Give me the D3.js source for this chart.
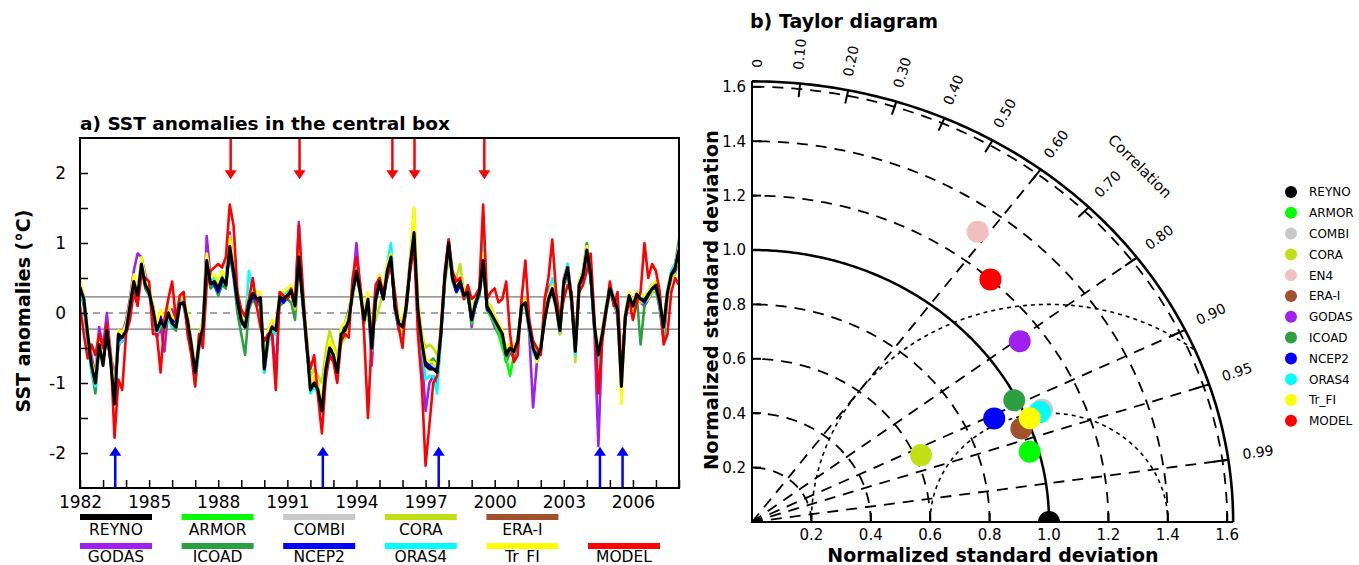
<!DOCTYPE html>
<html>
<head>
<meta charset="utf-8">
<title>SST anomalies and Taylor diagram</title>
<script src="https://cdn.jsdelivr.net/npm/d3@7"></script>
<style>
  body { margin: 0; background: #fff; }
  text { font-family: "DejaVu Sans", sans-serif; fill: #000; }
  .title { font-weight: bold; font-size: 18.5px; }
  .tick text { font-size: 17px; }
</style>
</head>
<body>
<svg id="chart" width="1359" height="565"></svg>
<script>
// ---- time series, one value every two months from 1982.0 ----
var step = 1 / 6;
var reyno = [
  0.37, 0.2, -0.3, -0.75, -1.0, -0.45,
  -0.75, -0.25, -0.7, -1.3, -0.3, -0.35,
  -0.25, 0.1, 0.45, 0.25, 0.7, 0.4,
  0.3, 0.05, -0.25, -0.12, -0.2, 0.0,
  -0.15, -0.2, 0.13, 0.15, -0.1, -0.45,
  -0.85, -0.45, -0.2, 0.75, 0.42, 0.45,
  0.35, 0.5, 0.4, 0.95, 0.6, 0.2,
  -0.1, -0.2, 0.15, 0.28, 0.2, 0.22,
  -0.8, -0.35, -0.2, -0.25, 0.23, 0.2,
  0.25, 0.32, 0.1, 0.8, 0.2, -0.4,
  -1.1, -1.0, -1.1, -1.4, -0.8, -0.5,
  -0.6, -0.85, -0.3, -0.25, -0.1, 0.3,
  0.6, 0.3, -0.1, 0.2, -0.5, 0.2,
  0.45, 0.2, 0.6, 0.8, 0.1, -0.15,
  -0.2, 0.1, 0.7, 1.15, 0.05, -0.4,
  -0.75, -0.8, -0.8, -0.85, -0.3, 0.5,
  1.0, 0.5, 0.35, 0.45, 0.25, 0.3,
  -0.1, 0.15, 0.3, 0.75, 0.1, 0.0,
  -0.1, -0.2, -0.3, -0.6, -0.5, -0.55,
  -0.4, 0.1, 0.15, -0.2, -0.5, -0.65,
  -0.5, -0.1, 0.2, 0.35, 0.1, -0.25,
  0.45, 0.65, 0.2, -0.55, 0.4, 0.55,
  0.9, 0.55, -0.2, -0.6, -0.3, 0.05,
  0.35, 0.2, 0.05, -1.05, -0.05, 0.25,
  0.1, 0.27, 0.2, 0.18, 0.27, 0.35,
  0.4, 0.15, -0.2, 0.3, 0.55, 0.65,
  0.9
];
var model = [
  0.1, -0.3, -0.65, -0.45, -0.6, -0.3,
  -0.5, -0.15, -0.6, -1.78, -0.95, -1.1,
  -0.3, -0.1, 0.3, 0.1, 0.55, 0.5,
  0.45, -0.3, -0.3, -0.85, -0.1, 0.2,
  0.45, -0.1, 0.25, 0.3, -0.3, -0.6,
  -1.05, -0.3, -0.5, 0.4, 0.6, 0.65,
  0.7, 0.65, 0.8, 1.55, 1.25, 0.3,
  0.05, -0.05, 0.2, 0.5, 0.1, -0.2,
  -0.4, -0.3, -0.3, -1.1, 0.3, 0.25,
  0.2, 0.35, 0.15, 1.25, 0.4, -0.5,
  -0.8, -0.6, -1.2, -1.72, -0.95, -0.6,
  -0.7, -1.0, -0.4, -0.3, -0.35, 0.5,
  0.8, 0.4, -0.3, -1.5, -0.3, 0.4,
  0.5, 0.3, 0.5, 0.7, 0.3, -0.2,
  -0.5, 0.2, 0.6, 0.95, -0.3, -1.0,
  -2.18, -1.6, -1.0, -0.9, -0.2, 0.6,
  1.05, 0.6, 0.45, 0.5, 0.2, 0.4,
  0.2, 0.25, 0.35, 1.55, 0.2, 0.3,
  0.35, 0.15, 0.2, 0.45, -0.3, -0.7,
  -0.6, 0.2, 0.75, -0.1, -0.4, -0.5,
  -0.6, 0.2, 0.5, 1.05, 0.3, -0.1,
  0.2, 0.4, 0.3, -0.5, 0.3, 0.4,
  0.6, 0.85, -0.1, -1.15, -0.4, 0.0,
  0.45, 0.1, 0.3, -0.85, -0.1, 0.2,
  -0.1, 0.15, 0.3, 1.0, 0.5, 0.7,
  0.6, 0.3, -0.45, -0.3, 0.3, 0.5,
  0.4
];
var godas = [
  0.3, 0.15, -0.35, -0.6, -0.9, -0.2,
  -0.5, 0.0, -0.6, -0.9, -0.5, -0.3,
  -0.1, 0.2, 0.6, 0.85, 0.8, 0.55,
  0.35, -0.05, -0.35, -0.2, -0.55, 0.05,
  0.05, -0.1, 0.2, 0.1, -0.2, -0.55,
  -1.0, -0.5, -0.25, 1.1, 0.5, 0.4,
  0.4, 0.45, 0.5, 1.15, 0.6, 0.1,
  -0.15, -0.2, 0.15, 0.3, 0.15, 0.1,
  -0.85, -0.4, -0.25, -0.85, 0.2, 0.25,
  0.2, 0.3, 0.1, 1.3, 0.15, -0.5,
  -1.0, -0.95, -1.1, -1.3, -0.85, -0.5,
  -0.55, -0.8, -0.35, -0.2, -0.15, 0.4,
  1.0, 0.35, -0.05, 0.15, -0.75, 0.3,
  0.5, 0.25, 0.55, 0.75, 0.05, -0.25,
  -0.3, 0.05, 0.65, 1.1, 0.0, -0.55,
  -1.4, -1.0, -0.9, -1.0, -0.35, 0.5,
  1.05, 0.55, 0.3, 0.4, 0.2, 0.35,
  -0.2, 0.15, 0.25, 0.8, 0.15, -0.05,
  -0.2, -0.3, -0.35, -0.7, -0.55, -0.65,
  -0.4, 0.05, 0.2, -0.3, -1.35, -0.7,
  -0.55, 0.0, 0.35, 0.45, 0.15, -0.3,
  0.5, 0.7, 0.25, -0.5, 0.35, 0.45,
  0.85, 0.5, -0.3, -1.9, -0.35, 0.0,
  0.3, 0.15, -0.05, -0.95, -0.1, 0.2,
  0.15, 0.2, 0.15, 0.1, 0.2, 0.3,
  0.35, 0.05, -0.4, 0.25, 0.5, 0.6,
  0.85
];
var icoad = [
  0.35, 0.1, -0.4, -0.8, -1.15, -0.5,
  -0.7, -0.3, -0.65, -1.2, -0.35, -0.3,
  -0.2, 0.05, 0.4, 0.2, 0.65, 0.35,
  0.25, 0.0, -0.3, -0.2, -0.25, -0.05,
  -0.2, -0.25, 0.1, 0.25, -0.2, -0.5,
  -0.8, -0.4, -0.1, 0.65, 0.35, 0.4,
  0.25, 0.4, 0.35, 0.85, 0.5, 0.0,
  -0.3, -0.6, 0.05, 0.2, 0.1, 0.15,
  -0.7, -0.3, -0.25, -0.2, 0.1, 0.15,
  0.2, 0.15, -0.1, 0.7, 0.1, -0.45,
  -1.05, -0.95, -1.05, -1.35, -0.8, -0.45,
  -0.55, -0.75, -0.25, -0.15, 0.05, 0.3,
  0.55, 0.25, -0.15, 0.15, -0.5, 0.15,
  0.4, 0.2, 0.5, 0.75, 0.05, -0.2,
  -0.25, 0.05, 0.65, 1.05, 0.0, -0.45,
  -0.7, -0.7, -0.65, -0.75, -0.25, 0.45,
  0.95, 0.45, 0.3, 0.4, 0.2, 0.25,
  -0.1, 0.1, 0.25, 0.65, 0.05, -0.05,
  -0.15, -0.25, -0.35, -0.7, -0.55, -0.5,
  -0.45, 0.05, 0.1, -0.25, -0.55, -0.6,
  -0.5, -0.1, 0.15, 0.3, 0.05, -0.3,
  0.4, 0.6, 0.15, -0.5, 0.45, 0.6,
  1.0, 0.5, -0.2, -0.55, -0.3, 0.1,
  0.4, 0.25, 0.0, -1.0, -0.05, 0.2,
  0.05, 0.25, -0.45, 0.1, 0.2, 0.3,
  0.35, 0.1, -0.35, 0.25, 0.6, 0.7,
  1.05
];
var armor = [  // starts 1993
  -0.55, -0.8, -0.3, -0.2, -0.05, 0.3,
  0.55, 0.3, -0.05, 0.2, -0.45, 0.25,
  0.45, 0.2, 0.6, 0.8, 0.15, -0.1,
  -0.15, 0.15, 0.75, 1.1, 0.05, -0.35,
  -0.7, -0.75, -0.7, -0.8, -0.3, 0.45,
  0.95, 0.5, 0.35, 0.4, 0.2, 0.25,
  -0.15, 0.1, 0.3, 0.7, 0.05, -0.05,
  -0.15, -0.3, -0.5, -0.65, -0.9, -0.6,
  -0.35, 0.1, 0.1, -0.2, -0.45, -0.6,
  -0.45, -0.05, 0.25, 0.3, 0.1, -0.3,
  0.4, 0.6, 0.2, -0.5, 0.35, 0.5,
  0.85, 0.5, -0.25, -0.65, -0.35, 0.0,
  0.3, 0.15, 0.0, -1.0, -0.1, 0.2,
  0.1, 0.2, 0.2, 0.15, 0.25, 0.3,
  0.3, 0.1, -0.3, 0.25, 0.5, 0.6,
  0.85
];
var cora = [  // starts 1990
  -0.7, -0.3, -0.15, -0.3, 0.15, 0.3,
  0.3, 0.25, 0.05, 0.7, 0.2, -0.3,
  -0.9, -0.8, -0.9, -1.0, -0.55, -0.25,
  -0.45, -0.6, -0.45, -0.35, -0.05, 0.2,
  0.5, 0.35, 0.0, -0.1, -0.2, -0.1,
  0.1, 0.3, 0.7, 0.7, 0.2, -0.05,
  -0.3, 0.2, 0.8, 1.5, 0.2, -0.3,
  -0.5, -0.45, -0.5, -0.6, -0.25, 0.4,
  0.8, 0.55, 0.5, 0.7, 0.3, 0.35,
  0.0, 0.2, 0.35, 0.6, 0.15, 0.1,
  -0.05, -0.15, -0.3, -0.55, -0.5, -0.55,
  -0.45, 0.05, 0.1, -0.2, -0.55, -0.6,
  -0.55, -0.15, 0.15, 0.3, 0.05, -0.3,
  0.4, 0.5, 0.15, -0.7, 0.35, 0.5,
  0.75, 0.5, -0.2, -0.55, -0.3, 0.05,
  0.3, 0.2, 0.0, -0.95, -0.05, 0.2,
  0.05, 0.2, 0.15, 0.15, 0.2, 0.3,
  0.35, 0.15, -0.25, 0.25, 0.5, 0.55,
  0.75
];
var combi = [
  0.4, 0.25, -0.25, -0.7, -0.95, -0.4,
  -0.7, -0.2, -0.65, -1.25, -0.25, -0.3,
  -0.2, 0.15, 0.5, 0.3, 0.75, 0.45,
  0.35, 0.1, -0.2, -0.1, -0.15, 0.05,
  -0.1, -0.15, 0.15, 0.2, -0.05, -0.4,
  -0.8, -0.4, -0.15, 0.8, 0.45, 0.5,
  0.4, 0.55, 0.45, 1.0, 0.65, 0.25,
  -0.05, -0.15, 0.2, 0.3, 0.25, 0.25,
  -0.75, -0.3, -0.15, -0.2, 0.25, 0.25,
  0.3, 0.35, 0.15, 0.85, 0.25, -0.35,
  -1.05, -0.95, -1.05, -1.35, -0.75, -0.45,
  -0.55, -0.8, -0.25, -0.2, -0.05, 0.35,
  0.65, 0.35, -0.05, 0.25, -0.45, 0.25,
  0.5, 0.25, 0.65, 0.95, 0.15, -0.1,
  -0.15, 0.15, 0.75, 1.2, 0.1, -0.35,
  -0.7, -0.75, -0.75, -0.8, -0.25, 0.55,
  1.05, 0.55, 0.4, 0.5, 0.3, 0.35,
  -0.05, 0.2, 0.35, 0.8, 0.15, 0.05,
  -0.05, -0.15, -0.25, -0.55, -0.45, -0.5,
  -0.35, 0.15, 0.2, -0.15, -0.45, -0.6,
  -0.45, -0.05, 0.25, 0.4, 0.15, -0.2,
  0.5, 0.7, 0.25, -0.5, 0.45, 0.6,
  0.95, 0.6, -0.15, -0.55, -0.25, 0.1,
  0.4, 0.25, 0.1, -1.0, 0.0, 0.3,
  0.15, 0.3, 0.25, 0.25, 0.3, 0.4,
  0.45, 0.2, -0.15, 0.35, 0.6, 0.7,
  0.95
];
var erai = [
  0.35, 0.2, -0.3, -0.75, -0.95, -0.45,
  -0.7, -0.25, -0.65, -1.25, -0.3, -0.35,
  -0.2, 0.1, 0.45, 0.25, 0.65, 0.4,
  0.3, 0.05, -0.25, -0.1, -0.2, 0.0,
  -0.1, -0.2, 0.15, 0.15, -0.1, -0.45,
  -0.85, -0.45, -0.2, 0.7, 0.4, 0.45,
  0.35, 0.5, 0.4, 0.9, 0.6, 0.2,
  -0.1, -0.2, 0.15, 0.25, 0.2, 0.2,
  -0.8, -0.35, -0.2, -0.25, 0.2, 0.2,
  0.25, 0.3, 0.1, 0.8, 0.2, -0.4,
  -1.1, -1.0, -1.1, -1.4, -0.8, -0.5,
  -0.6, -0.85, -0.3, -0.25, -0.1, 0.3,
  0.6, 0.3, -0.1, 0.2, -0.5, 0.2,
  0.45, 0.2, 0.6, 0.8, 0.1, -0.15,
  -0.2, 0.1, 0.7, 1.15, 0.05, -0.4,
  -0.75, -0.8, -0.8, -0.85, -0.3, 0.5,
  1.0, 0.5, 0.35, 0.45, 0.25, 0.3,
  -0.1, 0.15, 0.3, 0.75, 0.1, 0.0,
  -0.1, -0.2, -0.3, -0.6, -0.5, -0.55,
  -0.4, 0.1, 0.15, -0.2, -0.5, -0.65,
  -0.5, -0.1, 0.2, 0.35, 0.1, -0.25,
  0.45, 0.65, 0.2, -0.55, 0.4, 0.55,
  0.9, 0.55, -0.2, -0.6, -0.3, 0.05,
  0.35, 0.2, 0.05, -1.05, -0.05, 0.25,
  0.1, 0.27, 0.2, 0.18, 0.27, 0.35,
  0.4, 0.15, -0.2, 0.3, 0.55, 0.65,
  0.9
];
var ncep2 = [
  0.35, 0.15, -0.35, -0.7, -0.95, -0.4,
  -0.7, -0.3, -0.7, -1.25, -0.35, -0.4,
  -0.25, 0.15, 0.4, 0.3, 0.65, 0.45,
  0.3, 0.1, -0.2, -0.05, -0.2, 0.05,
  -0.1, -0.15, 0.2, 0.15, -0.05, -0.45,
  -0.85, -0.45, -0.25, 0.7, 0.45, 0.4,
  0.3, 0.45, 0.45, 0.9, 0.55, 0.15,
  -0.1, -0.2, 0.1, 0.25, 0.15, 0.2,
  -0.8, -0.35, -0.2, -0.3, 0.2, 0.15,
  0.25, 0.3, 0.15, 0.75, 0.2, -0.4,
  -1.1, -1.0, -1.15, -1.35, -0.85, -0.5,
  -0.55, -0.85, -0.3, -0.2, -0.1, 0.3,
  0.55, 0.3, -0.1, 0.2, -0.5, 0.2,
  0.4, 0.2, 0.55, 0.75, 0.1, -0.15,
  -0.2, 0.15, 0.65, 1.1, 0.05, -0.4,
  -0.7, -0.75, -0.8, -0.8, -0.3, 0.5,
  0.95, 0.5, 0.3, 0.4, 0.25, 0.25,
  -0.1, 0.1, 0.3, 0.7, 0.05, 0.0,
  -0.1, -0.2, -0.3, -0.6, -0.45, -0.5,
  -0.4, 0.1, 0.15, -0.2, -0.5, -0.6,
  -0.5, -0.1, 0.2, 0.3, 0.1, -0.25,
  0.4, 0.6, 0.2, -0.55, 0.4, 0.5,
  0.85, 0.5, -0.2, -0.6, -0.3, 0.05,
  0.35, 0.15, 0.05, -1.0, -0.05, 0.25,
  0.1, 0.25, 0.2, 0.15, 0.25, 0.35,
  0.35, 0.15, -0.2, 0.3, 0.55, 0.6,
  0.85
];
var oras4 = [
  0.3, 0.15, -0.4, -0.85, -1.05, -0.5,
  -0.65, -0.2, -0.7, -1.2, -0.45, -0.4,
  -0.2, 0.05, 0.5, 0.3, 0.75, 0.5,
  0.35, 0.05, -0.3, -0.15, -0.2, -0.05,
  -0.2, -0.15, 0.2, 0.15, -0.15, -0.5,
  -1.05, -0.5, -0.35, 0.7, 0.45, 0.5,
  0.4, 0.6, 0.45, 0.95, 0.6, 0.25,
  0.0, -0.15, 0.6, 0.3, 0.2, 0.2,
  -0.85, -0.45, -0.25, -0.3, 0.25, 0.25,
  0.3, 0.35, 0.15, 0.95, 0.25, -0.45,
  -1.15, -1.05, -1.15, -1.4, -0.85, -0.55,
  -0.65, -0.85, -0.35, -0.25, -0.1, 0.35,
  0.65, 0.35, -0.1, 0.2, -0.55, 0.2,
  0.5, 0.25, 0.7, 1.0, 0.1, -0.15,
  -0.2, 0.1, 0.75, 1.4, 0.05, -0.45,
  -0.95, -0.9, -0.9, -1.15, -0.35, 0.45,
  1.0, 0.55, 0.4, 0.5, 0.25, 0.3,
  -0.1, 0.15, 0.3, 1.2, 0.15, 0.0,
  -0.1, -0.2, -0.3, -0.6, -0.5, -0.55,
  -0.4, 0.1, 0.15, -0.25, -0.55, -0.7,
  -0.5, -0.05, 0.25, 0.5, 0.1, -0.25,
  0.45, 0.7, 0.2, -0.6, 0.4, 0.55,
  0.9, 0.55, -0.25, -0.75, -0.3, 0.05,
  0.4, 0.2, 0.05, -1.1, -0.05, 0.25,
  0.1, 0.3, 0.2, 0.2, 0.3, 0.4,
  0.45, 0.1, -0.25, 0.3, 0.6, 0.7,
  0.85
];
var trfi = [
  0.5, 0.2, -0.25, -0.7, -0.9, -0.35,
  -0.6, -0.2, -0.6, -1.1, -0.25, -0.3,
  -0.15, 0.15, 0.55, 0.3, 0.8, 0.5,
  0.4, 0.1, -0.15, 0.05, -0.1, 0.1,
  -0.05, -0.1, 0.25, 0.2, 0.0, -0.4,
  -0.75, -0.35, -0.1, 0.85, 0.5, 0.55,
  0.45, 0.6, 0.5, 1.1, 0.7, 0.3,
  0.0, -0.1, 0.25, 0.35, 0.3, 0.3,
  -0.7, -0.25, -0.1, -0.15, 0.3, 0.3,
  0.35, 0.4, 0.2, 0.9, 0.3, -0.3,
  -1.0, -0.9, -1.0, -1.3, -0.7, -0.4,
  -0.5, -0.75, -0.2, -0.15, 0.0, 0.4,
  0.7, 0.4, 0.0, 0.3, -0.4, 0.3,
  0.55, 0.3, 0.7, 0.85, 0.2, -0.05,
  -0.1, 0.2, 0.8, 1.5, 0.15, -0.3,
  -0.65, -0.7, -0.7, -0.75, -0.2, 0.55,
  1.0, 0.55, 0.4, 0.5, 0.3, 0.35,
  0.0, 0.2, 0.35, 0.85, 0.15, 0.05,
  -0.05, -0.15, -0.25, -0.5, -0.45, -0.5,
  -0.35, 0.15, 0.2, -0.15, -0.45, -0.7,
  -0.45, 0.0, 0.25, 0.4, 0.15, -0.2,
  0.45, 0.65, 0.25, -0.45, 0.45, 0.6,
  0.95, 0.6, -0.15, -0.55, -0.25, 0.1,
  0.35, 0.2, 0.1, -1.3, 0.0, 0.3,
  0.15, 0.3, 0.25, 0.25, 0.3, 0.4,
  0.45, 0.2, -0.15, 0.35, 0.55, 0.65,
  0.75
];

// legend of panel a (two rows)
var legendRow1 = ["REYNO", "ARMOR", "COMBI", "CORA", "ERA-I"];
var legendRow2 = ["GODAS", "ICOAD", "NCEP2", "ORAS4", "Tr_FI", "MODEL"];
var colors = {
  "REYNO": "#000000", "ARMOR": "#00ff00", "COMBI": "#c8c8c8", "CORA": "#c0e014",
  "EN4": "#f0c0c0", "ERA-I": "#a0522d", "GODAS": "#a020f0", "ICOAD": "#2ca040",
  "NCEP2": "#0000ff", "ORAS4": "#00ffff", "Tr_FI": "#ffff00", "MODEL": "#ff0000"
};
// warm (red) and cold (blue) events
var warmEvents = [1988.54, 1991.53, 1995.56, 1996.52, 1999.55];
var coldEvents = [1983.53, 1992.54, 1997.57, 2004.57, 2005.55];
var band = 0.23;

// ---- Taylor diagram ----
var taylorNames = ["REYNO", "ARMOR", "COMBI", "CORA", "EN4", "ERA-I", "GODAS", "ICOAD", "NCEP2", "ORAS4", "Tr_FI", "MODEL"];
var taylorStd   = [1.00, 0.97, 1.06, 0.62, 1.31, 0.97, 1.12, 0.99, 0.90, 1.05, 1.01, 1.20];
var taylorCorr  = [1.00, 0.964, 0.921, 0.918, 0.58, 0.935, 0.805, 0.892, 0.906, 0.923, 0.926, 0.669];
var corrTicks = [0, 0.1, 0.2, 0.3, 0.4, 0.5, 0.6, 0.7, 0.8, 0.9, 0.95, 0.99];
var corrLines = [0.6, 0.8, 0.9, 0.95, 0.99];
var stdTicks = [0.2, 0.4, 0.6, 0.8, 1.0, 1.2, 1.4, 1.6];
var rmsArcs = [0.4, 0.8];

var svg = d3.select("#chart");

// =========== panel a ===========
var xA = d3.scaleLinear().domain([1982, 2008]).range([80, 679]);
var yA = d3.scaleLinear().domain([-2.5, 2.5]).range([488, 138]);
var gA = svg.append("g");

svg.append("defs").append("clipPath").attr("id", "clipA")
  .append("rect").attr("x", 80).attr("y", 138).attr("width", 599).attr("height", 350);

gA.append("text").attr("class", "title").attr("x", 80).attr("y", 130)
  .text("a) SST anomalies in the central box");

[band, -band].forEach(function(v) {
  gA.append("line").attr("x1", 80).attr("x2", 679).attr("y1", yA(v)).attr("y2", yA(v))
    .attr("stroke", "#777").attr("stroke-width", 1.3);
});
gA.append("line").attr("x1", 80).attr("x2", 679).attr("y1", yA(0)).attr("y2", yA(0))
  .attr("stroke", "#888").attr("stroke-width", 1.3).attr("stroke-dasharray", "7,6");

var series = [
  { name: "GODAS", start: 1982, values: godas },
  { name: "ICOAD", start: 1982, values: icoad },
  { name: "ARMOR", start: 1993, values: armor },
  { name: "CORA",  start: 1990, values: cora },
  { name: "COMBI", start: 1982, values: combi },
  { name: "ERA-I", start: 1982, values: erai },
  { name: "NCEP2", start: 1982, values: ncep2 },
  { name: "ORAS4", start: 1982, values: oras4 },
  { name: "Tr_FI", start: 1982, values: trfi },
  { name: "MODEL", start: 1982, values: model },
  { name: "REYNO", start: 1982, values: reyno }
];

var line = d3.line()
  .x(function(d) { return xA(d[0]); })
  .y(function(d) { return yA(d[1]); });

var lines = gA.append("g").attr("clip-path", "url(#clipA)");
lines.selectAll("path").data(series).enter().append("path")
  .attr("d", function(s) { return line(s.values.map(function(v, i) { return [s.start + i * step, v]; })); })
  .attr("fill", "none")
  .attr("stroke", function(s) { return colors[s.name]; })
  .attr("stroke-width", function(s) { return s.name === "REYNO" ? 3 : 2.6; })
  .attr("stroke-linejoin", "round");

// event arrows
function arrow(g, x, yFrom, yTip, color) {
  var dir = yTip > yFrom ? 1 : -1;
  g.append("line").attr("x1", x).attr("x2", x).attr("y1", yFrom).attr("y2", yTip - dir * 6)
    .attr("stroke", color).attr("stroke-width", 2.5);
  g.append("path")
    .attr("d", "M" + (x - 6) + "," + (yTip - dir * 9) + "L" + (x + 6) + "," + (yTip - dir * 9) + "L" + x + "," + yTip + "Z")
    .attr("fill", color);
}
warmEvents.forEach(function(t) { arrow(gA, xA(t), yA(2.5), yA(1.91), "#ff0000"); });
coldEvents.forEach(function(t) { arrow(gA, xA(t), yA(-2.5), yA(-1.91), "#0000ff"); });

// axes
var xAxisA = d3.axisBottom(xA).tickValues(d3.range(1982, 2009))
  .tickSizeInner(-8).tickSizeOuter(0).tickPadding(8)
  .tickFormat(function(d) { return (d - 1982) % 3 === 0 && d < 2008 ? d : ""; });
var gx = gA.append("g").attr("transform", "translate(0,488)").call(xAxisA);
gx.select(".domain").remove();
gx.selectAll(".tick line").attr("stroke", "#000").attr("stroke-width", 1.5);

var yAxisA = d3.axisLeft(yA).tickValues(d3.range(-2, 2.01, 0.5))
  .tickSizeInner(-8).tickSizeOuter(0).tickPadding(14)
  .tickFormat(function(d) { return d % 1 === 0 ? d : ""; });
var gy = gA.append("g").attr("transform", "translate(80,0)").call(yAxisA);
gy.select(".domain").remove();
gy.selectAll(".tick line").attr("stroke", "#000").attr("stroke-width", 1.5);

gA.append("rect").attr("x", 80).attr("y", 138).attr("width", 599).attr("height", 350)
  .attr("fill", "none").attr("stroke", "#000").attr("stroke-width", 2);

gA.append("text").attr("class", "title").style("font-size", "19px")
  .attr("transform", "translate(30,311) rotate(-90)").attr("text-anchor", "middle")
  .text("SST anomalies (°C)");

// legend
function legendRow(names, ySw, yTxt) {
  names.forEach(function(n, i) {
    var x0 = 80 + i * 101.6;
    gA.append("line").attr("x1", x0).attr("x2", x0 + 72).attr("y1", ySw).attr("y2", ySw)
      .attr("stroke", colors[n]).attr("stroke-width", 6);
    gA.append("text").attr("x", x0 + 36).attr("y", yTxt).attr("text-anchor", "middle")
      .style("font-size", "15.5px").text(n);
  });
}
legendRow(legendRow1, 517, 535);
legendRow(legendRow2, 546, 562);

// =========== panel b: Taylor diagram ===========
var ox = 752, oy = 522;
var xT = d3.scaleLinear().domain([0, 1]).range([ox, ox + 297]);
var yT = d3.scaleLinear().domain([0, 1]).range([oy, oy - 272]);
var rMax = 1.62;
var gB = svg.append("g");
var pathLine = d3.line();
function pol(r, th) { return [xT(r * Math.cos(th)), yT(r * Math.sin(th))]; }
function arcPts(r) { return d3.range(0, 181).map(function(i) { return pol(r, Math.PI / 2 * i / 180); }); }

gB.append("text").attr("class", "title").style("font-size", "19px").attr("x", 750).attr("y", 28).text("b) Taylor diagram");

// std dev circles
stdTicks.forEach(function(s) {
  gB.append("path").attr("d", pathLine(arcPts(s))).attr("fill", "none")
    .attr("stroke", "#000")
    .attr("stroke-width", s === 1.0 ? 2.5 : 1.8)
    .attr("stroke-dasharray", s === 1.0 ? null : "11,8");
});
// correlation rays
corrLines.forEach(function(c) {
  var th = Math.acos(c);
  gB.append("path").attr("d", pathLine([pol(0, th), pol(rMax, th)])).attr("fill", "none")
    .attr("stroke", "#000").attr("stroke-width", 1.8).attr("stroke-dasharray", "11,8");
});
// centred RMS difference arcs around the reference
rmsArcs.forEach(function(R) {
  var pts = d3.range(0, 361).map(function(i) {
    var ph = Math.PI * i / 360;
    return [1 + R * Math.cos(ph), R * Math.sin(ph)];
  }).filter(function(p) { return Math.hypot(p[0], p[1]) <= rMax && p[0] >= 0; })
    .map(function(p) { return [xT(p[0]), yT(p[1])]; });
  gB.append("path").attr("d", pathLine(pts)).attr("fill", "none")
    .attr("stroke", "#000").attr("stroke-width", 1.6).attr("stroke-dasharray", "4,4");
});
// frame
gB.append("path").attr("d", pathLine(arcPts(rMax))).attr("fill", "none")
  .attr("stroke", "#000").attr("stroke-width", 2.6);
gB.append("path").attr("d", pathLine([pol(rMax, Math.PI / 2), pol(0, 0), pol(rMax, 0)]))
  .attr("fill", "none").attr("stroke", "#000").attr("stroke-width", 2);

// axis ticks and labels
stdTicks.forEach(function(s) {
  gB.append("line").attr("x1", xT(0)).attr("x2", xT(0) + 9).attr("y1", yT(s)).attr("y2", yT(s))
    .attr("stroke", "#000").attr("stroke-width", 2);
  gB.append("line").attr("x1", xT(s)).attr("x2", xT(s)).attr("y1", yT(0)).attr("y2", yT(0) - 9)
    .attr("stroke", "#000").attr("stroke-width", 2);
  gB.append("text").attr("x", xT(0) - 6).attr("y", yT(s)).attr("dy", "0.36em")
    .attr("text-anchor", "end").style("font-size", "15px").text(d3.format(".1f")(s));
  gB.append("text").attr("x", xT(s)).attr("y", yT(0) + 18)
    .attr("text-anchor", "middle").style("font-size", "15px").text(d3.format(".1f")(s));
});
corrTicks.forEach(function(c) {
  var th = Math.acos(c);
  gB.append("path").attr("d", pathLine([pol(rMax, th), pol(rMax - 0.05, th)]))
    .attr("stroke", "#000").attr("stroke-width", 2);
  var p = pol(1.67, th);
  gB.append("text").attr("transform", "translate(" + p[0] + "," + p[1] + ") rotate(" + (-th * 180 / Math.PI) + ")")
    .attr("dy", c === 0 ? "0.7em" : "0.1em")
    .style("font-size", "14px").text(c === 0 ? "0" : d3.format(".2f")(c));
});
var pc = pol(1.83, Math.acos(0.707));
gB.append("text").attr("transform", "translate(" + pc[0] + "," + pc[1] + ") rotate(45)")
  .attr("text-anchor", "middle").style("font-size", "15px").text("Correlation");

gB.append("text").attr("class", "title").attr("x", 993).attr("y", 562).attr("text-anchor", "middle")
  .style("font-size", "19px").text("Normalized standard deviation");
gB.append("text").attr("class", "title").attr("transform", "translate(718,300) rotate(-90)")
  .attr("text-anchor", "middle").style("font-size", "19.5px").text("Normalized standard deviation");

// points
svg.select("defs").append("clipPath").attr("id", "clipB")
  .append("rect").attr("x", 740).attr("y", 60).attr("width", 520).attr("height", oy - 60);
var pts = taylorNames.map(function(n, i) {
  var th = Math.acos(taylorCorr[i]);
  return { name: n, x: xT(taylorStd[i] * Math.cos(th)), y: yT(taylorStd[i] * Math.sin(th)) };
});
gB.append("g").attr("clip-path", "url(#clipB)").selectAll("circle").data(pts).enter().append("circle")
  .attr("cx", function(d) { return d.x; }).attr("cy", function(d) { return d.y; })
  .attr("r", 11).attr("fill", function(d) { return colors[d.name]; });

// legend
taylorNames.forEach(function(n, i) {
  var y = 192 + i * 20.8;
  gB.append("circle").attr("cx", 1291).attr("cy", y).attr("r", 6).attr("fill", colors[n]);
  gB.append("text").attr("x", 1309).attr("y", y).attr("dy", "0.36em")
    .style("font-size", "12px").text(n);
});
</script>
</body>
</html>
